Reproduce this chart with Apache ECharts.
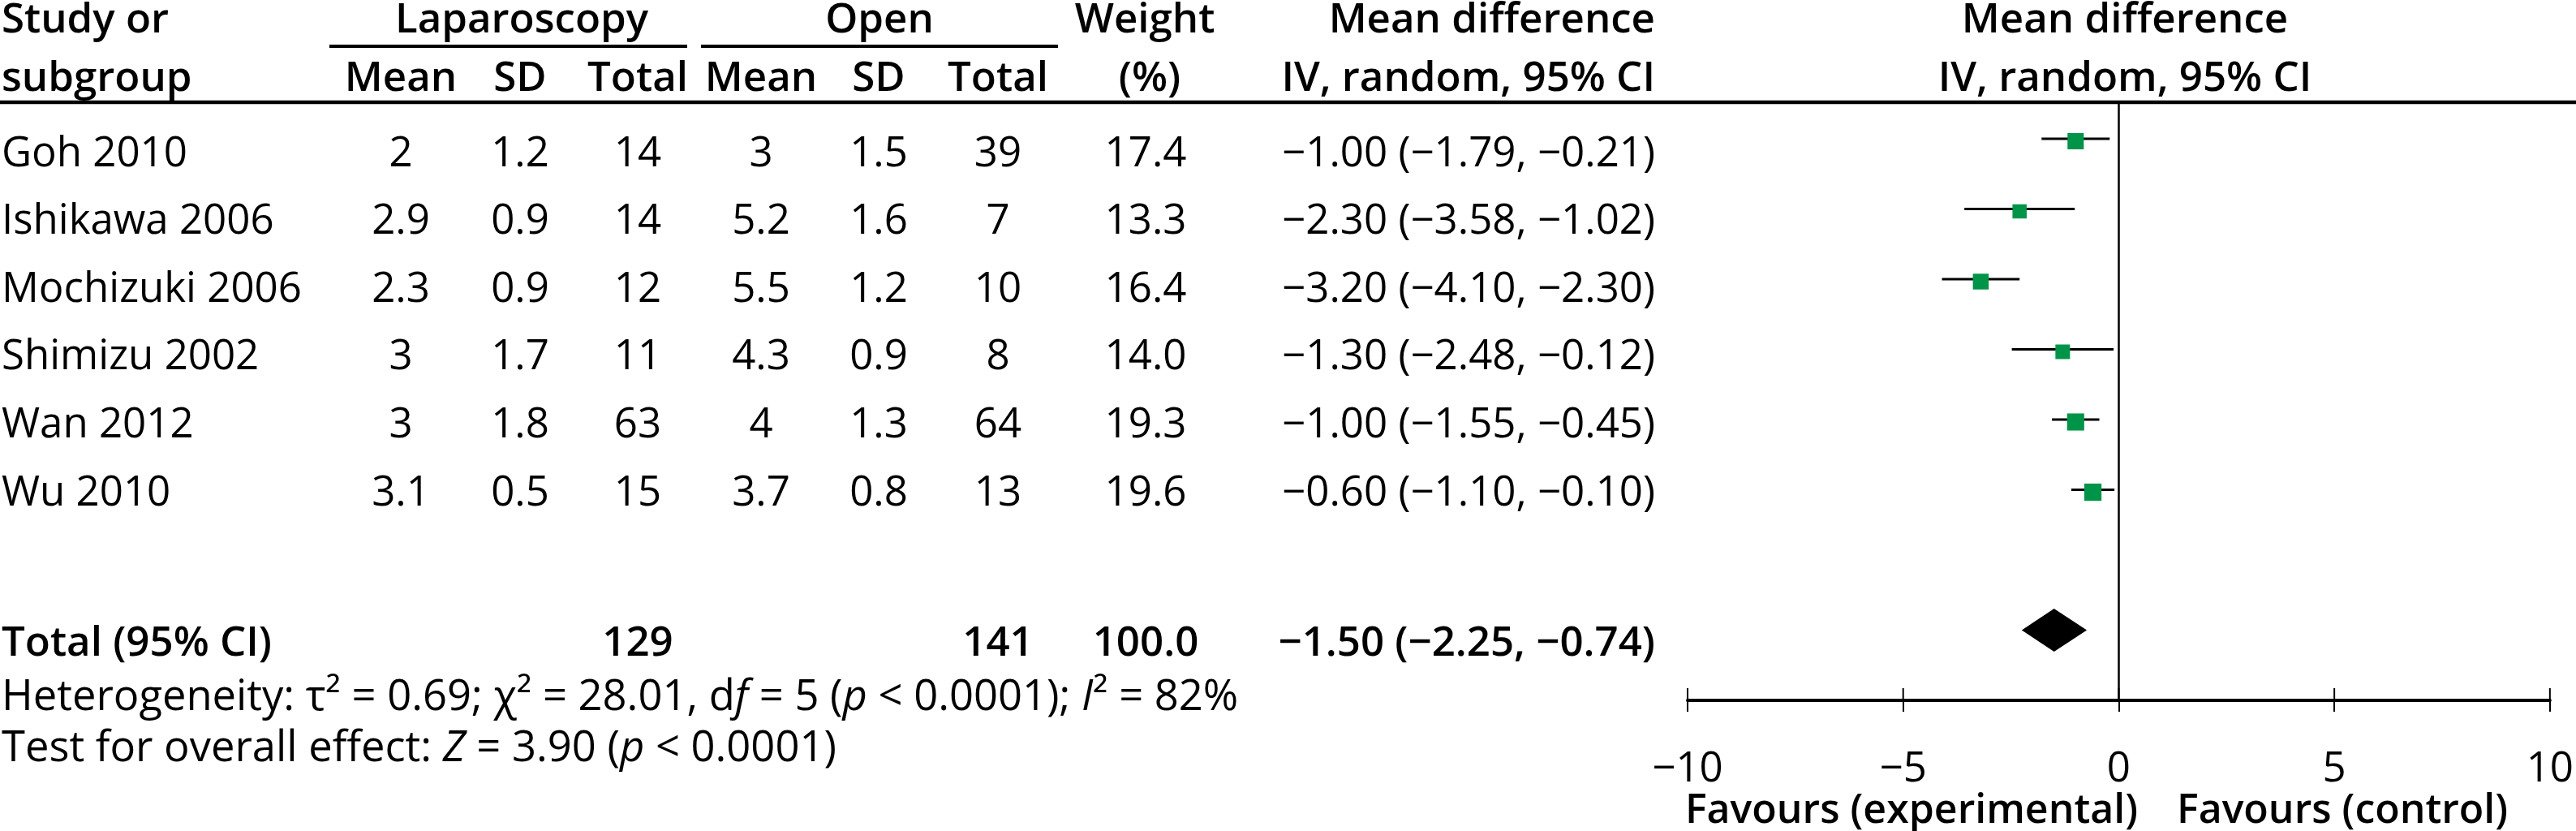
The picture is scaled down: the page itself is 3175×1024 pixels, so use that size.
<!DOCTYPE html>
<html><head><meta charset="utf-8">
<script src="https://cdn.jsdelivr.net/npm/echarts@6/dist/echarts.min.js"></script>
<style>html,body{margin:0;padding:0;background:#fff}#c{width:3175px;height:1024px}</style>
</head><body><div id="c"></div>
<script>
// ---------- data ----------
const studies   = ['Goh 2010','Ishikawa 2006','Mochizuki 2006','Shimizu 2002','Wan 2012','Wu 2010'];
const lapMean   = ['2','2.9','2.3','3','3','3.1'];
const lapSD     = ['1.2','0.9','0.9','1.7','1.8','0.5'];
const lapTotal  = [14,14,12,11,63,15];
const openMean  = ['3','5.2','5.5','4.3','4','3.7'];
const openSD    = ['1.5','1.6','1.2','0.9','1.3','0.8'];
const openTotal = [39,7,10,8,64,13];
const weight    = [17.4,13.3,16.4,14.0,19.3,19.6];
const md        = [-1.00,-2.30,-3.20,-1.30,-1.00,-0.60];
const ciLow     = [-1.79,-3.58,-4.10,-2.48,-1.55,-1.10];
const ciHigh    = [-0.21,-1.02,-2.30,-0.12,-0.45,-0.10];
const totalLap = 129, totalOpen = 141, totalWeight = '100.0';
const totalMd = -1.50, totalLow = -2.25, totalHigh = -0.74;
const tickValues = [-10,-5,0,5,10];
const heterogeneity = {tau2:'0.69', chi2:'28.01', df:5, p:'0.0001', i2:'82%'};
const overall = {z:'3.90', p:'0.0001'};

// ---------- layout / style ----------
const FONT = '"Open Sans", "Noto Sans", sans-serif';
const FS = 51;
const FSF = 52.5;
const HW = 600;
const GREEN = '#009448';
const COLX = {name:2, lm:494, lsd:641, lt:786, om:938, osd:1083, ot:1230, w:1412, md:2040, forest:2619};
const Y1 = 22, Y2 = 94, YLINE = 126, YAXIS = 863;
const YTOT = 790, YHET = 857, YTEST = 920, YFAV = 997;
const TOFF = 3;

function m(v){ return (v<0?'\u2212':'') + Math.abs(v).toFixed(2); }
function ci(a,lo,hi){ return m(a)+' ('+m(lo)+', '+m(hi)+')'; }

function txt(text,x,y,align,weight,size){
  return {type:'text', x:x, y:y+TOFF, silent:true,
    style:{text:text, fontFamily:FONT, fontSize:size||FS, fontWeight:weight||'normal', fill:'#000',
      align:align||'left', verticalAlign:'middle'}};
}

const chart = echarts.init(document.getElementById('c'));

const tableSeries = {
  type:'custom', xAxisIndex:0, yAxisIndex:0, silent:true, clip:false,
  data: studies.map((s,i)=>[0,i]),
  renderItem:(params, api)=>{
    const i = params.dataIndex;
    const y = api.coord([0, i])[1];
    const cells = [
      [studies[i], COLX.name, 'left'],
      [lapMean[i], COLX.lm, 'center'],
      [lapSD[i], COLX.lsd, 'center'],
      [String(lapTotal[i]), COLX.lt, 'center'],
      [openMean[i], COLX.om, 'center'],
      [openSD[i], COLX.osd, 'center'],
      [String(openTotal[i]), COLX.ot, 'center'],
      [weight[i].toFixed(1), COLX.w, 'center'],
      [ci(md[i],ciLow[i],ciHigh[i]), COLX.md, 'right']
    ];
    return {type:'group', children: cells.map(c=>txt(c[0], c[1], y, c[2]))};
  }
};

const ciSeries = {
  type:'custom', xAxisIndex:1, yAxisIndex:1, silent:true, clip:false, z:3,
  data: md.map((v,i)=>[v,i]),
  renderItem:(params, api)=>{
    const i = params.dataIndex;
    const a = api.coord([ciLow[i], i]), b = api.coord([ciHigh[i], i]);
    return {type:'line', shape:{x1:a[0], y1:a[1], x2:b[0], y2:b[1]}, style:{stroke:'#000', lineWidth:3}};
  },
  markLine:{silent:true, symbol:['none','none'], label:{show:false},
    lineStyle:{color:'#000', width:2.5, type:'solid'}, data:[{xAxis:0}]}
};

const squareSeries = {
  type:'custom', xAxisIndex:1, yAxisIndex:1, silent:true, clip:false, z:4,
  data: md.map((v,i)=>[v,i]),
  renderItem:(params, api)=>{
    const i = params.dataIndex;
    const c = api.coord([md[i], i]);
    const s = 4.8*Math.sqrt(weight[i]);
    return {type:'rect', shape:{x:c[0]-s/2, y:c[1]-s/2+3, width:s, height:s}, style:{fill:GREEN}};
  }
};

const diamondSeries = {
  type:'custom', xAxisIndex:1, yAxisIndex:1, silent:true, clip:false, z:4,
  data: [[totalMd, 7]],
  renderItem:(params, api)=>{
    const row = 7, h = 26.5;
    const l = api.coord([totalLow,row]), c = api.coord([totalMd,row]), r = api.coord([totalHigh,row]);
    return {type:'polygon', shape:{points:[[l[0],l[1]],[c[0],c[1]-h],[r[0],r[1]],[c[0],c[1]+h]]}, style:{fill:'#000'}};
  }
};

// upward half of the axis ticks (the axis itself draws the downward half)
const tickUpSeries = {
  type:'custom', xAxisIndex:1, yAxisIndex:1, silent:true, clip:false, z:5,
  data: tickValues.map(v=>[v, 8]),
  renderItem:(params, api)=>{
    const p = api.coord([tickValues[params.dataIndex], 8]);
    return {type:'line', shape:{x1:p[0], y1:p[1]-15, x2:p[0], y2:p[1]}, style:{stroke:'#000', lineWidth:2}};
  }
};

const graphics = [
  txt('Study or', COLX.name, Y1, 'left', HW),
  txt('subgroup', COLX.name, Y2, 'left', HW),
  txt('Laparoscopy', 643, Y1, 'center', HW),
  txt('Open', 1084, Y1, 'center', HW),
  txt('Weight', 1411, Y1, 'center', HW),
  txt('(%)', 1417, Y2, 'center', HW),
  txt('Mean', COLX.lm, Y2, 'center', HW),
  txt('SD', COLX.lsd, Y2, 'center', HW),
  txt('Total', COLX.lt, Y2, 'center', HW),
  txt('Mean', COLX.om, Y2, 'center', HW),
  txt('SD', COLX.osd, Y2, 'center', HW),
  txt('Total', COLX.ot, Y2, 'center', HW),
  txt('Mean difference', COLX.md, Y1, 'right', HW),
  txt('IV, random, 95% CI', COLX.md, Y2, 'right', HW),
  txt('Mean difference', COLX.forest, Y1, 'center', HW),
  txt('IV, random, 95% CI', COLX.forest, Y2, 'center', HW),
  {type:'line', silent:true, shape:{x1:406,y1:57,x2:847,y2:57}, style:{stroke:'#000', lineWidth:4}},
  {type:'line', silent:true, shape:{x1:864,y1:57,x2:1304,y2:57}, style:{stroke:'#000', lineWidth:4}},
  {type:'line', silent:true, shape:{x1:0,y1:YLINE,x2:3175,y2:YLINE}, style:{stroke:'#000', lineWidth:4.5}},
  txt('Total (95% CI)', COLX.name, YTOT, 'left', HW),
  txt(String(totalLap), COLX.lt, YTOT, 'center', HW),
  txt(String(totalOpen), COLX.ot, YTOT, 'center', HW),
  txt(totalWeight, COLX.w, YTOT, 'center', HW),
  txt(ci(totalMd,totalLow,totalHigh), COLX.md, YTOT, 'right', HW),
  {type:'text', x:COLX.name, y:YHET+TOFF, silent:true, style:{
    text:'Heterogeneity: \u03c4\u00b2 = '+heterogeneity.tau2+'; \u03c7\u00b2 = '+heterogeneity.chi2+', d{i|f} = '+heterogeneity.df+' ({i|p} < '+heterogeneity.p+'); {i|I}\u00b2 = '+heterogeneity.i2,
    fontFamily:FONT, fontSize:FSF, fill:'#000', align:'left', verticalAlign:'middle',
    rich:{i:{fontFamily:FONT, fontSize:FSF, fontStyle:'italic', fill:'#000'}}}},
  {type:'text', x:COLX.name, y:YTEST+TOFF, silent:true, style:{
    text:'Test for overall effect: {i|Z} = '+overall.z+' ({i|p} < '+overall.p+')',
    fontFamily:FONT, fontSize:FSF, fill:'#000', align:'left', verticalAlign:'middle',
    rich:{i:{fontFamily:FONT, fontSize:FSF, fontStyle:'italic', fill:'#000'}}}},
  txt('Favours (experimental)', 2635, YFAV, 'right', HW, 50),
  txt('Favours (control)', 2683, YFAV, 'left', HW, 50)
];

chart.setOption({
  backgroundColor:'#fff',
  animation:false,
  grid:[
    {left:0, right:0, top:187, bottom:1024-605},
    {left:2080, right:28, top:YLINE, bottom:1024-YAXIS}
  ],
  xAxis:[
    {gridIndex:0, type:'value', min:0, max:1, show:false},
    {gridIndex:1, type:'value', min:tickValues[0], max:tickValues[tickValues.length-1], interval:5, position:'bottom',
      axisLine:{show:true, onZero:false, lineStyle:{color:'#000', width:4}},
      axisTick:{show:true, inside:false, length:14, lineStyle:{color:'#000', width:2}},
      axisLabel:{show:true, margin:60, fontFamily:FONT, fontSize:FS, color:'#000',
        formatter:(v)=> (v<0?'\u2212':'') + Math.abs(v)},
      splitLine:{show:false}}
  ],
  yAxis:[
    {gridIndex:0, type:'value', min:0, max:5, inverse:true, show:false},
    {gridIndex:1, type:'value', min:-0.52, max:8, inverse:true, show:false}
  ],
  graphic: graphics,
  series:[tableSeries, ciSeries, squareSeries, diamondSeries, tickUpSeries]
});
</script></body></html>
